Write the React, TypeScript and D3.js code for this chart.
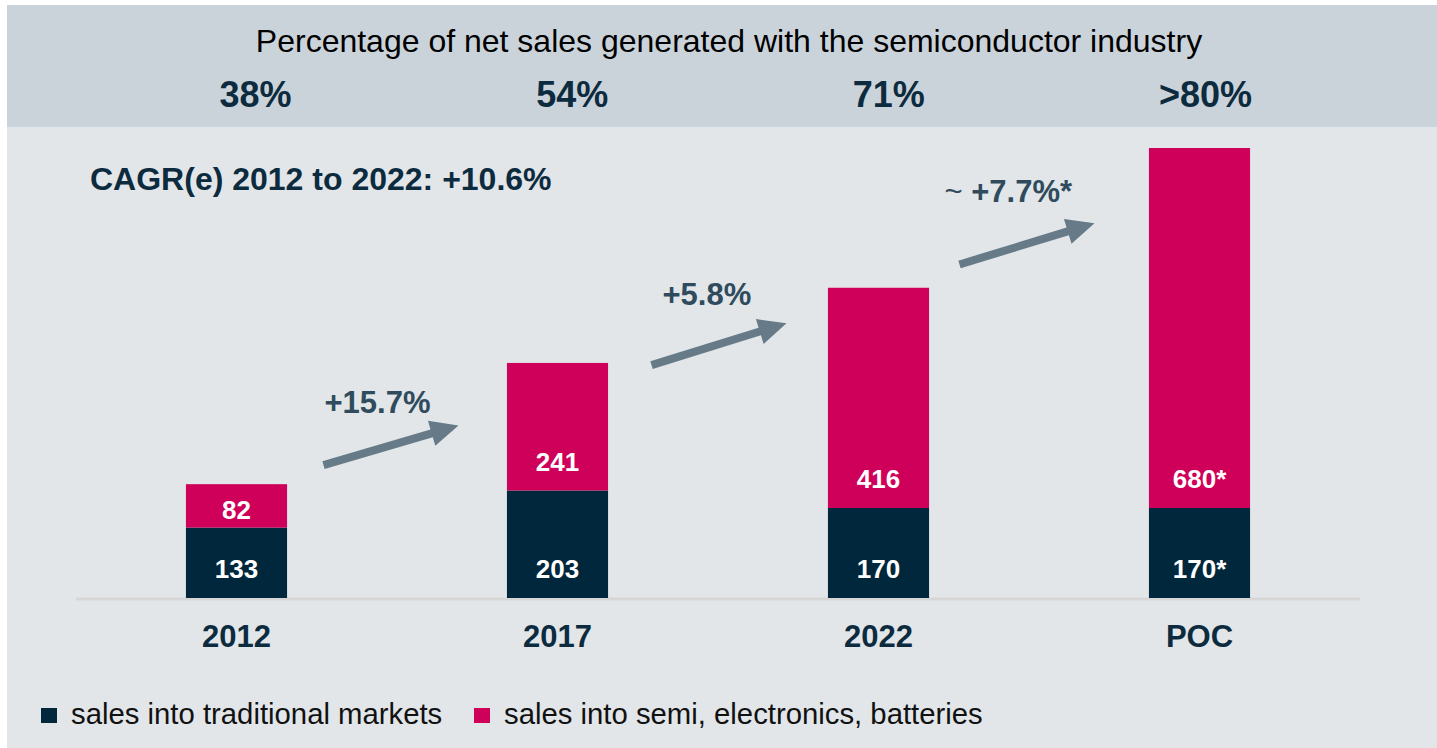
import React from 'react';
import * as d3 from 'd3';

// chart data
const categories = ['2012', '2017', '2022', 'POC'];
const traditional = [133, 203, 170, 170];
const semi = [82, 241, 416, 680];
const traditionalLabels = ['133', '203', '170', '170*'];
const semiLabels = ['82', '241', '416', '680*'];
const semiShare = ['38%', '54%', '71%', '>80%'];

// growth annotations between the bars (arrow ends in sales units)
const growthLabels = ['+15.7%', '+5.8%', '+7.7%*'];
const growthPrefix = ['', '', '~ '];
const arrowFrom = [251, 440, 630];
const arrowTo = [326, 519, 708];

const legendItems = ['sales into traditional markets', 'sales into semi, electronics, batteries'];

const W = 1437;
const H = 748;
const FONT = '"Liberation Sans", Arial, Helvetica, sans-serif';
const NAVY = '#01273c';
const PINK = '#cf0059';
const TEXT_DARK = '#0d2b3e';
const SLATE = '#2f4b5d';
const ARROW = '#667b87';

// small layout nudges for the annotations
const arrowShift = [-6, 1, -12];
const labelDx = [1, 11, -15];
const labelDy = [-52, -60, -62];

const arrowPath = (x0: number, y0: number, x1: number, y1: number) => {
  const dx = x1 - x0;
  const dy = y1 - y0;
  const len = Math.hypot(dx, dy);
  const ux = dx / len;
  const uy = dy / len;
  const nx = -uy;
  const ny = ux;
  const shaft = 4;
  const headLen = 28;
  const headW = 13;
  const bx = x1 - ux * headLen;
  const by = y1 - uy * headLen;
  const pts = [
    [x0 + nx * shaft, y0 + ny * shaft],
    [bx + nx * shaft, by + ny * shaft],
    [bx + nx * headW, by + ny * headW],
    [x1, y1],
    [bx - nx * headW, by - ny * headW],
    [bx - nx * shaft, by - ny * shaft],
    [x0 - nx * shaft, y0 - ny * shaft],
  ];
  return 'M' + pts.map(p => p.join(',')).join('L') + 'Z';
};

export default function App() {
  const x = d3.scaleBand<string>()
    .domain(categories)
    .range([76, 1360])
    .paddingInner(0.685)
    .paddingOuter(0.3425);

  // header columns sit on their own, slightly narrower grid
  const xHead = d3.scalePoint<string>()
    .domain(categories)
    .range([255.5, 1205.5]);

  const y = d3.scaleLinear()
    .domain([0, 850])
    .range([598, 148]);

  const bw = x.bandwidth();

  return (
    <svg width={W} height={H} style={{ position: 'absolute', left: 0, top: 0 }} fontFamily={FONT}>
      <rect x={0} y={0} width={W} height={H} fill="#ffffff" />
      <rect x={7} y={5} width={W - 7} height={122} fill="#cbd3da" />
      <rect x={7} y={127} width={W - 7} height={H - 127} fill="#e2e6e9" />

      <text x={729} y={52} textAnchor="middle" fontSize={32} fill="#000">
        Percentage of net sales generated with the semiconductor industry
      </text>
      {categories.map((c, i) => (
        <text key={c} x={xHead(c)} y={107} textAnchor="middle"
          fontSize={36} fontWeight="bold" fill={TEXT_DARK}>{semiShare[i]}</text>
      ))}

      <text x={90} y={190} fontSize={32} fontWeight="bold" fill={TEXT_DARK}>
        CAGR(e) 2012 to 2022: +10.6%
      </text>

      <line x1={76} x2={1360} y1={y(0) + 1} y2={y(0) + 1} stroke="#d6d6d6" strokeWidth={3} />

      {categories.map((c, i) => {
        const x0 = x(c) as number;
        const t0 = y(0);
        const t1 = y(traditional[i]);
        const s1 = y(traditional[i] + semi[i]);
        const semiH = t1 - s1;
        return (
          <g key={c}>
            <rect x={x0} y={t1} width={bw} height={t0 - t1} fill={NAVY} />
            <rect x={x0} y={s1} width={bw} height={semiH} fill={PINK} />
            <text x={x0 + bw / 2} y={t0 - 20} textAnchor="middle" fontSize={26}
              fontWeight="bold" fill="#fff">{traditionalLabels[i]}</text>
            <text x={x0 + bw / 2} y={t1 - Math.min(20, semiH * 0.2)} textAnchor="middle"
              fontSize={26} fontWeight="bold" fill="#fff">{semiLabels[i]}</text>
            <text x={x0 + bw / 2} y={647} textAnchor="middle" fontSize={31}
              fontWeight="bold" fill={TEXT_DARK}>{c}</text>
          </g>
        );
      })}

      {growthLabels.map((g, i) => {
        const left = (x(categories[i]) as number) + bw;
        const right = x(categories[i + 1]) as number;
        const mid = (left + right) / 2 + arrowShift[i];
        const x0 = mid - 67.5;
        const x1 = mid + 67.5;
        const y0 = y(arrowFrom[i]);
        const y1 = y(arrowTo[i]);
        return (
          <g key={g}>
            <path d={arrowPath(x0, y0, x1, y1)} fill={ARROW} />
            <text x={x0 + labelDx[i]} y={y0 + labelDy[i]} fontSize={31} fontWeight="bold" fill={SLATE}>
              {growthPrefix[i] && <tspan fontWeight="normal">{growthPrefix[i]}</tspan>}
              {g}
            </text>
          </g>
        );
      })}

      {legendItems.map((l, i) => {
        const lx = i === 0 ? 41 : 474;
        return (
          <g key={l}>
            <rect x={lx} y={708} width={16} height={15} fill={i === 0 ? NAVY : PINK} />
            <text x={lx + 30} y={724} fontSize={29.3} fill="#111">{l}</text>
          </g>
        );
      })}
    </svg>
  );
}
